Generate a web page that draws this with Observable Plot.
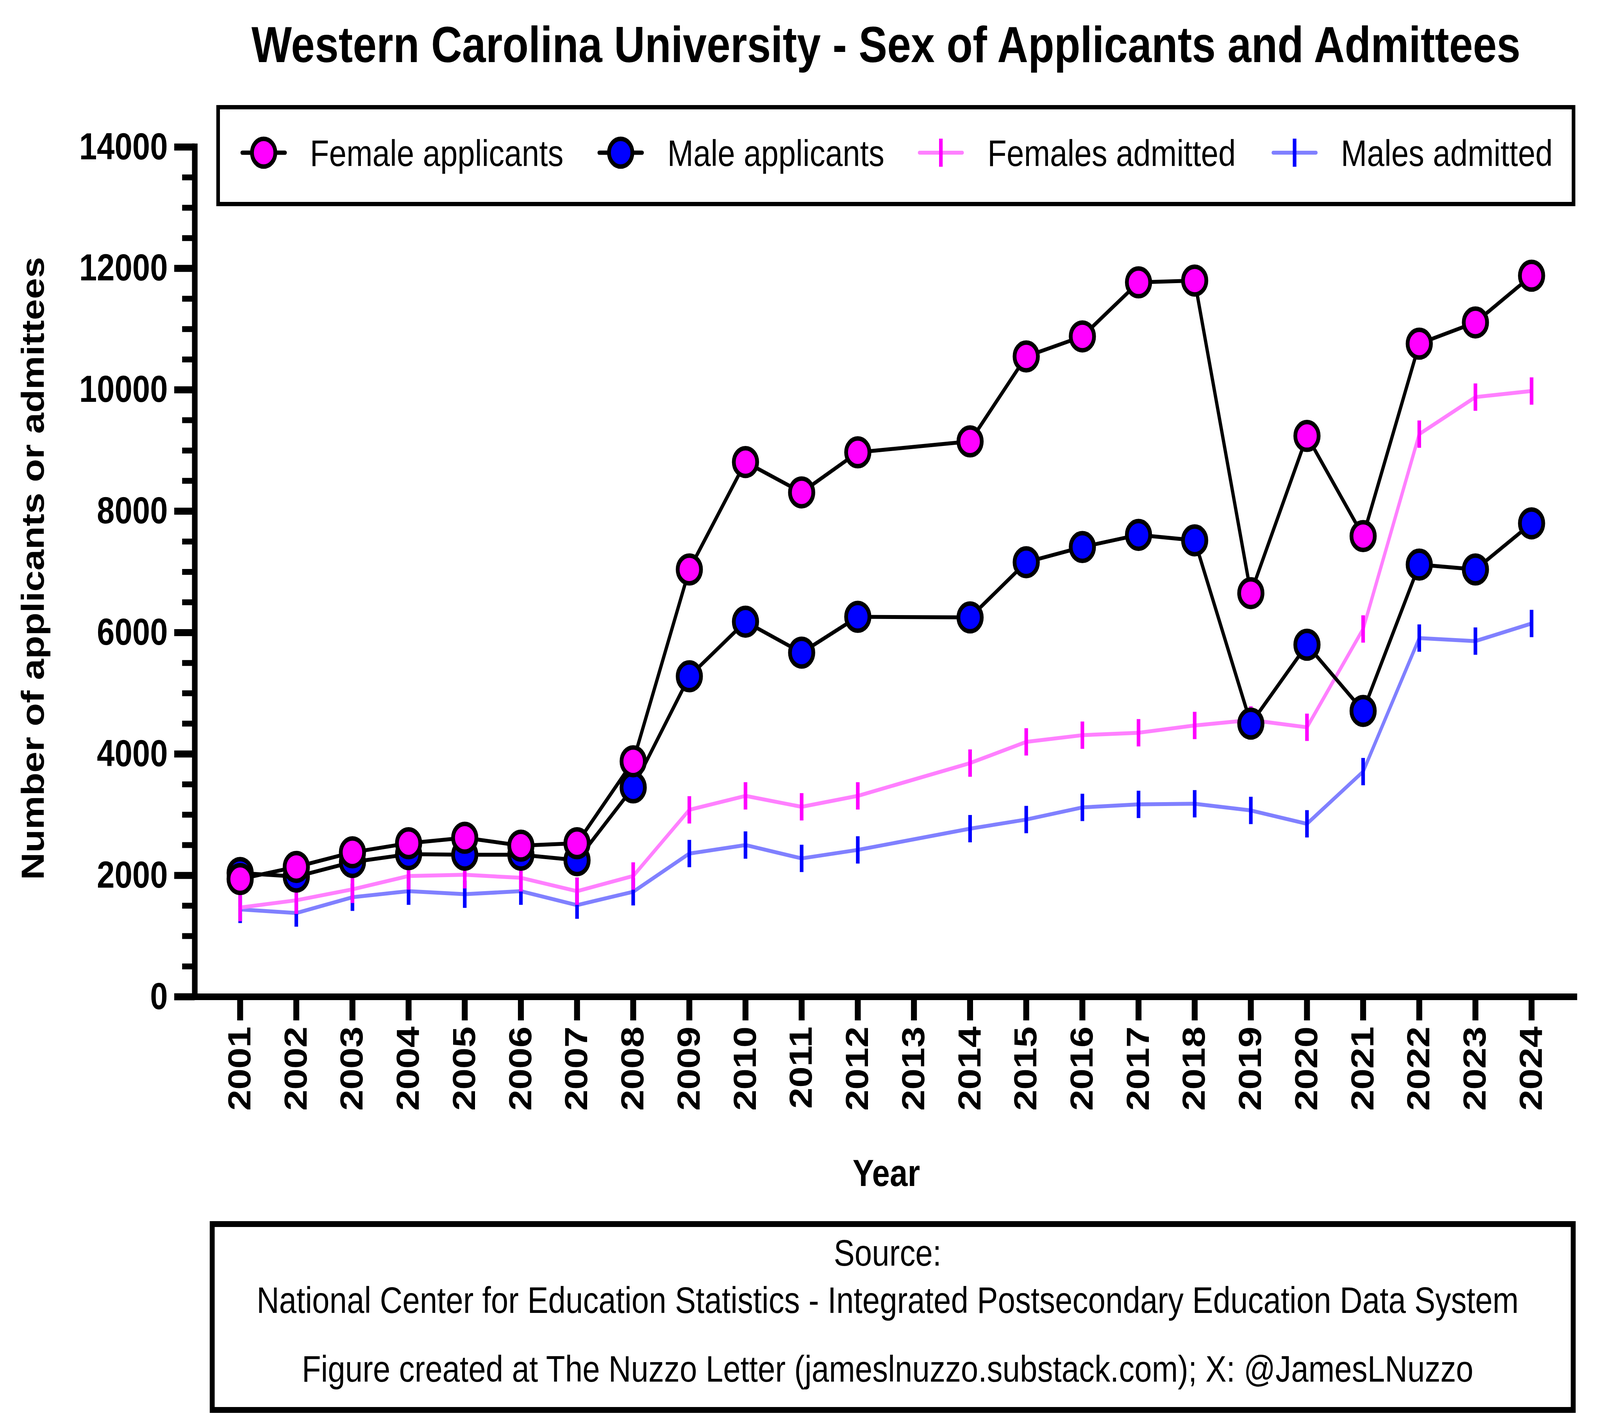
<!DOCTYPE html>
<html>
<head>
<meta charset="utf-8">
<script src="https://cdn.jsdelivr.net/npm/d3@7"></script>
<script src="https://cdn.jsdelivr.net/npm/@observablehq/plot@0.6"></script>
<style>
  html, body { margin: 0; padding: 0; background: #fff; overflow: hidden; }
  #wrap { position: absolute; left: 0; top: 0; width: 4867px; height: 3626px; background: #fff; overflow: hidden;
          transform-origin: 0 0;
          font-family: "Liberation Sans", Arial, Helvetica, sans-serif; color: #000; }
  #chart { position: absolute; left: 0; top: 0; }
  .abs { position: absolute; white-space: nowrap; }
  .title { left: 0; width: 5390px; top: 49px; text-align: center; font-size: 130px; line-height: 130px; font-weight: bold; }
  .legendbox { left: 658px; top: 269px; width: 4134px; height: 259px; border: 11px solid #000; box-sizing: border-box; }
  .legtext { font-size: 95px; line-height: 95px; }
  .ylabel { left: -901px; top: 1406.5px; width: 2000px; height: 97px; line-height: 97px; text-align: center;
            font-size: 97px; font-weight: bold; transform: rotate(-90deg); transform-origin: 50% 50%; }
  .xlabel { left: 0; width: 5392px; top: 2955px; text-align: center; font-size: 97px; line-height: 97px; font-weight: bold; }
  .capbox { left: 638px; top: 3127px; width: 4155px; height: 491px; border: 15px solid #000; box-sizing: border-box; }
  .capline { left: 0; width: 5400px; text-align: center; font-size: 95px; line-height: 95px; }
</style>
</head>
<body>
<div id="wrap">
  <div id="chart"></div>
</div>
<script>
// ---------- data ----------
const years = [2001, 2002, 2003, 2004, 2005, 2006, 2007, 2008, 2009, 2010, 2011, 2012,
               2014, 2015, 2016, 2017, 2018, 2019, 2020, 2021, 2022, 2023, 2024];
const femaleApplicants = [1940, 2140, 2380, 2530, 2620, 2490, 2530, 3880, 7040, 8810, 8310, 8970,
                          9150, 10550, 10880, 11770, 11800, 6650, 9240, 7590, 10760, 11110, 11880];
const maleApplicants = [2040, 1980, 2220, 2350, 2340, 2340, 2250, 3450, 5280, 6180, 5670, 6260,
                        6250, 7160, 7410, 7610, 7520, 4500, 5800, 4710, 7120, 7040, 7800];
const femalesAdmitted = [1470, 1590, 1770, 1990, 2010, 1960, 1740, 1990, 3080, 3310, 3130, 3310,
                         3850, 4200, 4310, 4350, 4470, 4560, 4440, 6060, 9270, 9880, 9980];
const malesAdmitted = [1440, 1380, 1640, 1740, 1690, 1740, 1510, 1730, 2360, 2500, 2280, 2420,
                       2770, 2920, 3120, 3170, 3180, 3070, 2850, 3710, 5910, 5860, 6150];
const xTickYears = [2001, 2002, 2003, 2004, 2005, 2006, 2007, 2008, 2009, 2010, 2011, 2012,
                    2013, 2014, 2015, 2016, 2017, 2018, 2019, 2020, 2021, 2022, 2023, 2024];
const yMajorTicks = [0, 2000, 4000, 6000, 8000, 10000, 12000, 14000];
const yMinorTicks = [500, 1000, 1500, 2500, 3000, 3500, 4500, 5000, 5500, 6500, 7000, 7500,
                     8500, 9000, 9500, 10500, 11000, 11500, 12500, 13000, 13500];
const seriesNames = ["Female applicants", "Male applicants", "Females admitted", "Males admitted"];
const titleText = "Western Carolina University - Sex of Applicants and Admittees";
const yLabelText = "Number of applicants or admittees";
const xLabelText = "Year";
const captionLines = [
  "Source:",
  "National Center for Education Statistics - Integrated Postsecondary Education Data System",
  "Figure created at The Nuzzo Letter (jameslnuzzo.substack.com); X: @JamesLNuzzo"
];

// ---------- fit the 4867x3626 design to the whole viewport ----------
const DESIGN_W = 4867, DESIGN_H = 3626;
const wrap = document.getElementById("wrap");
function fit() {
  const vw = window.innerWidth || document.documentElement.clientWidth || DESIGN_W;
  const vh = window.innerHeight || document.documentElement.clientHeight || DESIGN_H;
  const sx = vw / DESIGN_W, sy = vh / DESIGN_H;
  wrap.style.transform = "scale(" + sx + "," + sy + ")";
  document.body.style.width = vw + "px";
  document.body.style.height = vh + "px";
}
fit();
window.addEventListener("resize", fit);

// ---------- build ----------
const table = arr => years.map((year, i) => ({year, value: arr[i]}));
const fa = table(femaleApplicants), ma = table(maleApplicants);
const fad = table(femalesAdmitted), mad = table(malesAdmitted);

const vbar = {
  draw(context, size) {
    const h = Math.sqrt(size / Math.PI);
    context.moveTo(0, -h);
    context.lineTo(0, h);
  }
};

const xDomain = [2000.192, 2024.765];
const MAG = "#FF00FF", MAG_L = "#FF80FF", BLU = "#0000FF", BLU_L = "#8080FF";

const chart = Plot.plot({
  width: 4867,
  height: 3100,
  marginTop: 376,
  marginBottom: 548,
  marginLeft: 592,
  marginRight: 78,
  style: {fontFamily: "'Liberation Sans', Arial, sans-serif", fontSize: "97px", fontWeight: "bold",
          background: "transparent", overflow: "visible", color: "#000", maxWidth: "none"},
  x: {type: "linear", domain: xDomain},
  y: {domain: [0, 14000]},
  marks: [
    Plot.line(mad, {x: "year", y: "value", stroke: BLU_L, strokeWidth: 10}),
    Plot.dot(mad, {x: "year", y: "value", symbol: vbar, r: 35, fill: "none", stroke: BLU, strokeWidth: 11}),
    Plot.line(fad, {x: "year", y: "value", stroke: MAG_L, strokeWidth: 10}),
    Plot.dot(fad, {x: "year", y: "value", symbol: vbar, r: 35, fill: "none", stroke: MAG, strokeWidth: 11}),
    Plot.line(ma, {x: "year", y: "value", stroke: "#000", strokeWidth: 10}),
    Plot.dot(ma, {x: "year", y: "value", r: 35.5, fill: BLU, stroke: "#000", strokeWidth: 11.5}),
    Plot.line(fa, {x: "year", y: "value", stroke: "#000", strokeWidth: 10}),
    Plot.dot(fa, {x: "year", y: "value", r: 35.5, fill: MAG, stroke: "#000", strokeWidth: 11.5}),
    Plot.axisY(yMinorTicks, {tickSize: 38, strokeWidth: 15, tickFormat: () => "", label: null}),
    Plot.axisY(yMajorTicks, {tickSize: 62, tickPadding: 20, strokeWidth: 18, fontSize: 97, fontWeight: "bold",
                             tickFormat: d => String(d), label: null}),
    Plot.axisX(xTickYears, {tickSize: 61, tickPadding: 15, tickRotate: -90, strokeWidth: 18, fontSize: 97,
                            fontWeight: "bold", tickFormat: d => String(d), label: null}),
    Plot.ruleX([xDomain[0]], {stroke: "#000", strokeWidth: 17, strokeLinecap: "square"}),
    Plot.ruleY([0], {stroke: "#000", strokeWidth: 17, strokeLinecap: "square"})
  ]
});
document.getElementById("chart").appendChild(chart);

function addDiv(cls, text, css) {
  const d = document.createElement("div");
  d.className = "abs " + cls;
  if (text != null) d.textContent = text;
  if (css) Object.assign(d.style, css);
  wrap.appendChild(d);
  return d;
}
addDiv("title", titleText);
addDiv("legendbox", null);
addDiv("ylabel", yLabelText);
addDiv("xlabel", xLabelText);
addDiv("capbox", null);
const capTops = [3161, 3282, 3458];
captionLines.forEach((t, i) => addDiv("capline", t, {top: capTops[i] + "px"}));

// legend entries
const legendSymbolX = [802, 1888, 2862, 3938];
const legendTextX = [943, 2030, 3004, 4079];
const legendKinds = [
  {type: "circle", fill: MAG},
  {type: "circle", fill: BLU},
  {type: "tick", line: MAG_L, tick: MAG},
  {type: "tick", line: BLU_L, tick: BLU}
];
const NS = "http://www.w3.org/2000/svg";
seriesNames.forEach((name, i) => {
  const k = legendKinds[i];
  const svg = document.createElementNS(NS, "svg");
  svg.setAttribute("width", 150);
  svg.setAttribute("height", 100);
  svg.style.position = "absolute";
  svg.style.left = (legendSymbolX[i] - 75) + "px";
  svg.style.top = (391 - 50) + "px";
  const line = document.createElementNS(NS, "line");
  line.setAttribute("x1", 10); line.setAttribute("x2", 140);
  line.setAttribute("y1", 50); line.setAttribute("y2", 50);
  line.setAttribute("stroke-linecap", "round");
  if (k.type === "circle") {
    line.setAttribute("stroke", "#000"); line.setAttribute("stroke-width", 11);
    svg.appendChild(line);
    const c = document.createElementNS(NS, "circle");
    c.setAttribute("cx", 75); c.setAttribute("cy", 50); c.setAttribute("r", 35.5);
    c.setAttribute("fill", k.fill); c.setAttribute("stroke", "#000"); c.setAttribute("stroke-width", 11.5);
    svg.appendChild(c);
  } else {
    line.setAttribute("stroke", k.line); line.setAttribute("stroke-width", 10);
    svg.appendChild(line);
    const t = document.createElementNS(NS, "line");
    t.setAttribute("x1", 75); t.setAttribute("x2", 75);
    t.setAttribute("y1", 14); t.setAttribute("y2", 86);
    t.setAttribute("stroke", k.tick); t.setAttribute("stroke-width", 11);
    svg.appendChild(t);
  }
  wrap.appendChild(svg);
  addDiv("legtext", name, {left: legendTextX[i] + "px", top: "345px"});
});
</script>
</body>
</html>
